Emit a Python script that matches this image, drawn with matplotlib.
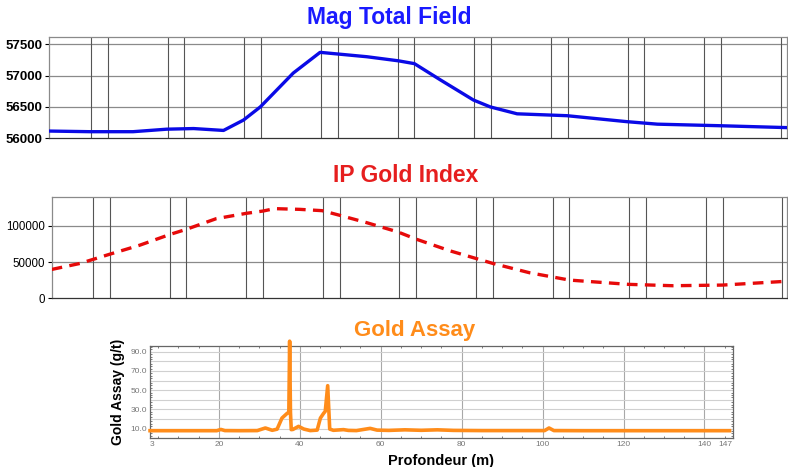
import numpy as np
import matplotlib.pyplot as plt

plt.rcParams['font.family'] = ['Liberation Sans', 'DejaVu Sans']

# Mag Total Field profile (distance along line, nT)
mag_x = [0, 53, 109, 153, 188, 227, 253, 275, 318, 353, 414, 455, 476, 510,
         553, 575, 610, 675, 753, 793, 875, 962]
mag_y = [56115, 56105, 56105, 56145, 56155, 56125, 56290, 56500, 57040, 57370,
         57300, 57235, 57190, 56930, 56610, 56500, 56390, 56360, 56265, 56225,
         56200, 56170]

# IP Gold Index profile
ip_x = [0, 37, 55, 76, 115, 154, 176, 215, 254, 276, 291, 324, 353, 376, 411,
        452, 476, 520, 576, 624, 676, 753, 811, 876, 920, 957]
ip_y = [39900, 48200, 54100, 61000, 73400, 88100, 95400, 110100, 117400,
        120600, 123900, 122900, 121100, 114700, 104600, 91700, 81700, 65600,
        48200, 35300, 25200, 19300, 17400, 18300, 21100, 23400]

# vertical reference lines on the two profile panels
line_pos = [54 + 100 * k for k in range(10)] + [76 + 100 * k for k in range(9)]

# Gold assay vs depth
depth = [3, 10, 19.5, 20.5, 21.5, 25, 29.5, 31.5, 33.2, 34.4, 35.6, 36.9, 37.3,
         37.5, 37.7, 37.9, 38.3, 39.7, 41, 42.6, 44.3, 45.1, 45.9, 46.3, 46.9,
         47.4, 48.3, 50.8, 52, 54, 57.4, 59.1, 62, 66, 70, 74, 78, 85, 95, 100.5,
         101.6, 102.8, 110, 120, 130, 140, 146.2]
gold = [7.9, 7.9, 7.9, 9.2, 8.0, 7.9, 8.0, 10.7, 8.3, 9.5, 21, 26, 27,
        101, 27, 9, 9.2, 12.4, 9.6, 8.0, 8.5, 21, 26, 28, 54.7,
        9.6, 8.3, 9.0, 8.2, 8.0, 10.3, 8.5, 8.2, 8.8, 8.3, 8.8, 8.2, 8.0, 8.0, 8.0,
        10.7, 8.0, 7.9, 7.9, 7.9, 7.9, 7.9]
depth_ticks = [3, 20, 40, 60, 80, 100, 120, 140, 147]

fig = plt.figure(figsize=(7.88, 4.67), dpi=100)

# --- Mag Total Field ---
ax1 = fig.add_axes([0.0628, 0.7039, 0.9359, 0.2176])
ax1.plot(mag_x, mag_y, color='#0a0ae6', lw=2.4, zorder=3)
ax1.set_xlim(0, 962)
ax1.set_ylim(56000, 57620)
ax1.set_yticks([56000, 56500, 57000, 57500])
ax1.set_xticks([])
for v in [56500, 57000, 57500]:
    ax1.axhline(v, color='#8a8a8a', lw=0.9, zorder=1)
for p in line_pos:
    ax1.axvline(p, color='#555555', lw=0.8, zorder=1)
ax1.tick_params(axis='y', length=3, pad=2, labelsize=9.5)
for t in ax1.get_yticklabels():
    t.set_fontweight('bold')
fig.text(0.4937, 0.9486, 'Mag Total Field', color='#1a1aff', fontsize=16.5,
         fontweight='bold', ha='center', va='baseline')

# --- IP Gold Index ---
ax2 = fig.add_axes([0.0656, 0.3612, 0.9331, 0.2170])
ax2.plot(ip_x, ip_y, color='#e60a0a', lw=2.4, ls=(0, (3.2, 2.2)), zorder=3)
ax2.set_xlim(0, 960)
ax2.set_ylim(0, 140000)
ax2.set_yticks([0, 50000, 100000])
ax2.set_xticks([])
for v in [50000, 100000]:
    ax2.axhline(v, color='#8a8a8a', lw=0.9, zorder=1)
for p in line_pos:
    ax2.axvline(p, color='#555555', lw=0.8, zorder=1)
ax2.tick_params(axis='y', length=3, pad=2, labelsize=8.3)
fig.text(0.5152, 0.6109, 'IP Gold Index', color='#e61e1e', fontsize=16.5,
         fontweight='bold', ha='center', va='baseline')

for ax in (ax1, ax2):
    for s in ax.spines.values():
        s.set_color('#8a8a8a')
        s.set_linewidth(0.9)
    ax.spines['bottom'].set_color('#333333')

# --- Gold Assay ---
ax3 = fig.add_axes([0.1904, 0.0615, 0.7395, 0.1976])
ax3.plot(depth, gold, color='#ff8c1a', lw=2.6, clip_on=False, zorder=3)
ax3.set_xlim(3, 147)
ax3.set_ylim(0, 96)
ax3.set_yticks(np.arange(10, 100, 10))
ax3.set_yticklabels(['%.1f' % v if v % 20 == 10 else '' for v in np.arange(10, 100, 10)])
ax3.set_xticks(depth_ticks)
ax3.set_xticklabels([str(d) for d in depth_ticks])
labs = ax3.get_xticklabels()
labs[0].set_ha('left')
labs[-1].set_ha('right')
ax3.set_xticks(np.arange(5, 147, 5), minor=True)
ax3.grid(axis='y', color='#d0d0d0', lw=0.8)
for d in depth_ticks[1:-1]:
    ax3.axvline(d, color='#a8a8a8', lw=0.8, zorder=1)
ax3.tick_params(axis='both', which='major', length=0, labelsize=6, labelcolor='#777777', pad=2)
ax3.tick_params(axis='both', which='minor', length=0)
ax3.tick_params(top=True, right=True, which='minor', direction='in', length=1.5, color='#666666')
ax3.set_yticks(np.arange(2.5, 96, 2.5), minor=True)
for s in ax3.spines.values():
    s.set_color('#666666')
    s.set_linewidth(0.9)
ax3.set_ylabel('Gold Assay (g/t)', fontsize=10, fontweight='bold', labelpad=4)
ax3.set_xlabel('Profondeur (m)', fontsize=10.5, fontweight='bold', labelpad=4)
fig.text(0.5266, 0.2805, 'Gold Assay', color='#ff8c1a', fontsize=16,
         fontweight='bold', ha='center', va='baseline')

fig.savefig('out.png', dpi=100)
